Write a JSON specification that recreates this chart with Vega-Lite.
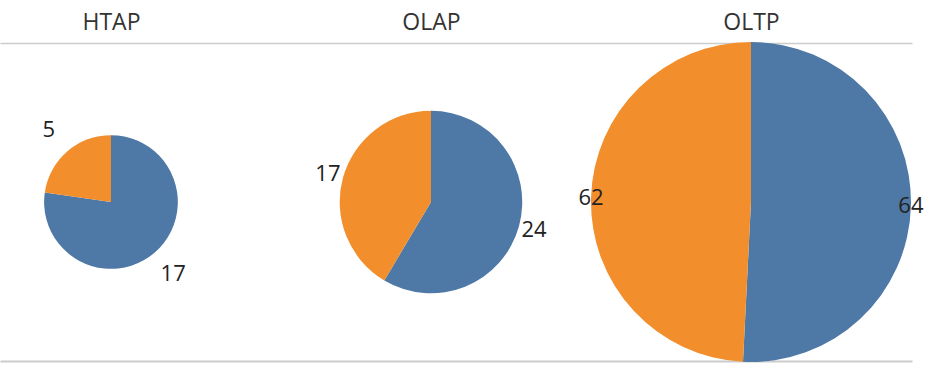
{
  "$schema": "https://vega.github.io/schema/vega-lite/v6.json",
  "width": 912,
  "height": 318,
  "autosize": {"type": "none"},
  "padding": {"left": 0, "top": 43, "right": 15, "bottom": 12},
  "background": "white",
  "config": {"view": {"stroke": null}, "font": "Open Sans"},
  "data": {
    "values": [
      {"workload": "HTAP", "part": "P1", "value": 17, "total": 22},
      {"workload": "HTAP", "part": "P2", "value": 5, "total": 22},
      {"workload": "OLAP", "part": "P1", "value": 24, "total": 41},
      {"workload": "OLAP", "part": "P2", "value": 17, "total": 41},
      {"workload": "OLTP", "part": "P1", "value": 64, "total": 126},
      {"workload": "OLTP", "part": "P2", "value": 62, "total": 126}
    ]
  },
  "encoding": {
    "x": {"field": "workload", "type": "nominal", "scale": {"type": "point", "domain": ["HTAP", "OLAP", "OLTP"], "padding": 0.425, "align": 0.408}},
    "theta": {"field": "value", "type": "quantitative", "stack": "normalize"},
    "order": {"field": "part", "sort": "ascending"}
  },
  "layer": [
    {
      "mark": {"type": "arc", "stroke": null},
      "encoding": {
        "x": {"field": "workload", "type": "nominal", "axis": {"orient": "top", "title": null, "ticks": false, "tickSize": 0, "labelPadding": 9, "labelFontSize": 23, "labelColor": "#333333", "labelFont": "Open Sans", "labelAngle": 0, "domain": true, "domainColor": "#cccccc", "domainWidth": 1.5, "grid": false}},
        "radius": {"field": "total", "type": "quantitative", "scale": {"type": "sqrt", "domain": [0, 126], "range": [0, 160], "zero": true}, "legend": null},
        "color": {"field": "part", "type": "nominal", "scale": {"domain": ["P1", "P2"], "range": ["#4e79a7", "#f28e2b"]}, "legend": null}
      }
    },
    {
      "mark": {"type": "text", "fontSize": 22, "color": "#222222", "font": "Open Sans"},
      "encoding": {
        "x": {"field": "workload", "type": "nominal", "axis": {"orient": "bottom", "title": null, "labels": false, "ticks": false, "domain": true, "domainColor": "#cccccc", "domainWidth": 2, "grid": false}},
        "radius": {"field": "total", "type": "quantitative", "scale": {"type": "linear", "domain": [22, 126], "range": [95, 160], "zero": false}, "legend": null},
        "text": {"field": "value", "type": "quantitative"}
      }
    }
  ],
  "resolve": {"axis": {"x": "independent"}, "scale": {"radius": "independent"}}
}
